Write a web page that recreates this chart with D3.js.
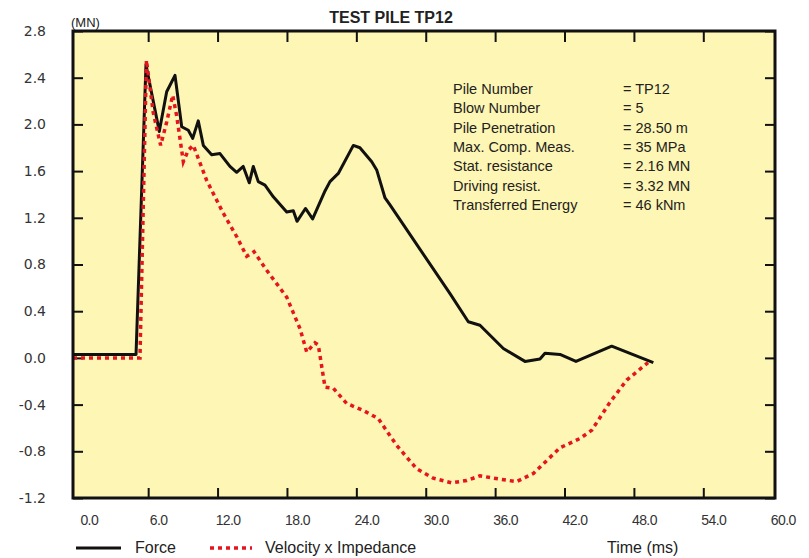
<!DOCTYPE html>
<html>
<head>
<meta charset="utf-8">
<script src="https://cdn.jsdelivr.net/npm/d3@7"></script>
<style>
  body { margin: 0; background: #fff; }
  svg text { font-family: "Liberation Sans", Arial, sans-serif; }
</style>
</head>
<body>
<div id="chart"></div>
<script>
// force trace (MN) against time (ms)
const forceTime = [-0.5, 4.95, 5.81, 6.96, 7.60, 8.32, 8.90, 9.47, 9.85, 10.33, 10.77, 11.49, 12.21, 13.07, 13.65,
  14.22, 14.74, 15.09, 15.52, 16.10, 16.82, 17.98, 18.55, 18.87, 19.60, 20.22, 21.29, 21.72, 22.44, 23.74,
  24.31, 25.33, 25.76, 26.48, 26.91, 32.10, 33.68, 34.69, 36.71, 38.58, 39.88, 40.31, 41.61, 42.99, 46.08, 49.68];
const forceValue = [0.03, 0.03, 2.51, 1.94, 2.28, 2.42, 1.98, 1.95, 1.88, 2.03, 1.82, 1.74, 1.75, 1.64, 1.59,
  1.64, 1.50, 1.64, 1.51, 1.48, 1.38, 1.25, 1.26, 1.17, 1.28, 1.19, 1.43, 1.51, 1.58, 1.82,
  1.80, 1.68, 1.61, 1.37, 1.31, 0.55, 0.31, 0.28, 0.08, -0.03, -0.01, 0.04, 0.03, -0.03, 0.10, -0.04];

// velocity x impedance trace
const velTime = [-0.5, 5.29, 5.85, 6.44, 7.08, 7.60, 8.12, 8.47, 9.04, 9.47, 9.90, 11.06, 12.49, 13.65, 14.52,
  15.15, 16.25, 17.98, 19.13, 19.71, 20.42, 20.71, 21.29, 22.01, 23.16, 24.60, 25.90, 27.49, 29.22, 30.65,
  32.24, 33.54, 34.69, 35.84, 37.86, 39.30, 41.61, 43.34, 44.35, 45.93, 47.38, 49.22];
const velValue = [0.0, 0.0, 2.55, 2.10, 1.82, 2.02, 2.25, 2.07, 1.68, 1.78, 1.82, 1.52, 1.24, 1.04, 0.87,
  0.91, 0.75, 0.52, 0.25, 0.05, 0.13, 0.11, -0.25, -0.26, -0.39, -0.45, -0.52, -0.75, -0.95, -1.03,
  -1.07, -1.05, -1.01, -1.03, -1.06, -0.99, -0.77, -0.69, -0.62, -0.38, -0.19, -0.04];

const xTicks = [0, 6, 12, 18, 24, 30, 36, 42, 48, 54, 60];
const yTicks = [-1.2, -0.8, -0.4, 0.0, 0.4, 0.8, 1.2, 1.6, 2.0, 2.4, 2.8];

const infoLabels = ["Pile Number", "Blow Number", "Pile Penetration", "Max. Comp. Meas.",
  "Stat. resistance", "Driving resist.", "Transferred Energy"];
const infoValues = ["= TP12", "= 5", "= 28.50 m", "= 35 MPa", "= 2.16 MN", "= 3.32 MN", "= 46 kNm"];

const seriesNames = ["Force", "Velocity x Impedance"];

const width = 809, height = 558;
const plot = { left: 73, right: 775, top: 31, bottom: 498 };
const red = "#e5141e";

const svg = d3.select("#chart").append("svg")
  .attr("width", width)
  .attr("height", height);

const x = d3.scaleLinear().domain([-0.5, 60.2]).range([plot.left, plot.right]);
const y = d3.scaleLinear().domain([-1.2, 2.8]).range([plot.bottom, plot.top]);

// plot background
svg.append("rect")
  .attr("x", plot.left).attr("y", plot.top)
  .attr("width", plot.right - plot.left).attr("height", plot.bottom - plot.top)
  .attr("fill", "#fef6b4");

const fmt = (d) => d.toFixed(1);

// axes with inward ticks
const bottomAxis = svg.append("g")
  .attr("transform", `translate(0,${plot.bottom})`)
  .call(d3.axisBottom(x).tickValues(xTicks).tickSize(-10).tickFormat(fmt));
bottomAxis.selectAll(".tick line").filter((d) => d === 0 || d === 60).remove();
bottomAxis.selectAll(".tick text")
  .attr("y", 22).attr("dy", "0.35em").attr("dx", 10)
  .style("font-size", "14px").style("letter-spacing", "-0.6px").attr("fill", "#333");

const topAxis = svg.append("g")
  .attr("transform", `translate(0,${plot.top})`)
  .call(d3.axisTop(x).tickValues(xTicks.slice(1, -1)).tickSize(-11).tickFormat(""));

const leftAxis = svg.append("g")
  .attr("transform", `translate(${plot.left},0)`)
  .call(d3.axisLeft(y).tickValues(yTicks).tickSize(-10).tickPadding(27).tickFormat(fmt));
leftAxis.selectAll(".tick text")
  .style("font-family", "'DejaVu Sans', sans-serif")
  .style("font-size", "14px").attr("fill", "#333");

const rightAxis = svg.append("g")
  .attr("transform", `translate(${plot.right},0)`)
  .call(d3.axisRight(y).tickValues(yTicks).tickSize(-10).tickFormat(""));

[bottomAxis, topAxis, leftAxis, rightAxis].forEach((g) => {
  g.select(".domain").remove();
  g.selectAll(".tick line").attr("stroke", "#111").attr("stroke-width", 2);
});

// curves
const line = d3.line().x((d) => x(d[0])).y((d) => y(d[1]));
const forceData = forceTime.map((t, i) => [t, forceValue[i]]);
const velData = velTime.map((t, i) => [t, velValue[i]]);

svg.append("path")
  .datum(forceData)
  .attr("d", line)
  .attr("fill", "none")
  .attr("stroke", "#111")
  .attr("stroke-width", 3)
  .attr("stroke-linejoin", "round");

svg.append("path")
  .datum(velData)
  .attr("d", line)
  .attr("fill", "none")
  .attr("stroke", red)
  .attr("stroke-width", 3.5)
  .attr("stroke-dasharray", "4,4");

// frame
svg.append("rect")
  .attr("x", plot.left).attr("y", plot.top)
  .attr("width", plot.right - plot.left).attr("height", plot.bottom - plot.top)
  .attr("fill", "none")
  .attr("stroke", "#111")
  .attr("stroke-width", 3);

// title and unit
svg.append("text")
  .attr("x", 391).attr("y", 23)
  .attr("text-anchor", "middle")
  .style("font-size", "16px").style("font-weight", "bold")
  .attr("fill", "#222")
  .text("TEST PILE TP12");

svg.append("text")
  .attr("x", 71).attr("y", 27)
  .style("font-size", "13px")
  .attr("fill", "#222")
  .text("(MN)");

// info block
const info = svg.append("g").style("font-size", "14.5px").attr("fill", "#222");
info.selectAll("text.lbl")
  .data(infoLabels)
  .join("text")
  .attr("class", "lbl")
  .attr("x", 453)
  .attr("y", (d, i) => 94 + i * 19.3)
  .text((d) => d);
info.selectAll("text.val")
  .data(infoValues)
  .join("text")
  .attr("class", "val")
  .attr("x", 623)
  .attr("y", (d, i) => 94 + i * 19.3)
  .text((d) => d);

// legend
const legend = svg.append("g").style("font-size", "16px").attr("fill", "#222");
legend.append("line")
  .attr("x1", 76).attr("x2", 121).attr("y1", 548).attr("y2", 548)
  .attr("stroke", "#111").attr("stroke-width", 3);
legend.append("text").attr("x", 135).attr("y", 553).text(seriesNames[0]);
legend.append("line")
  .attr("x1", 210).attr("x2", 252).attr("y1", 548).attr("y2", 548)
  .attr("stroke", red).attr("stroke-width", 3.5).attr("stroke-dasharray", "4,4");
legend.append("text").attr("x", 265).attr("y", 553).text(seriesNames[1]);
legend.append("text").attr("x", 607).attr("y", 553).text("Time (ms)");
</script>
</body>
</html>
